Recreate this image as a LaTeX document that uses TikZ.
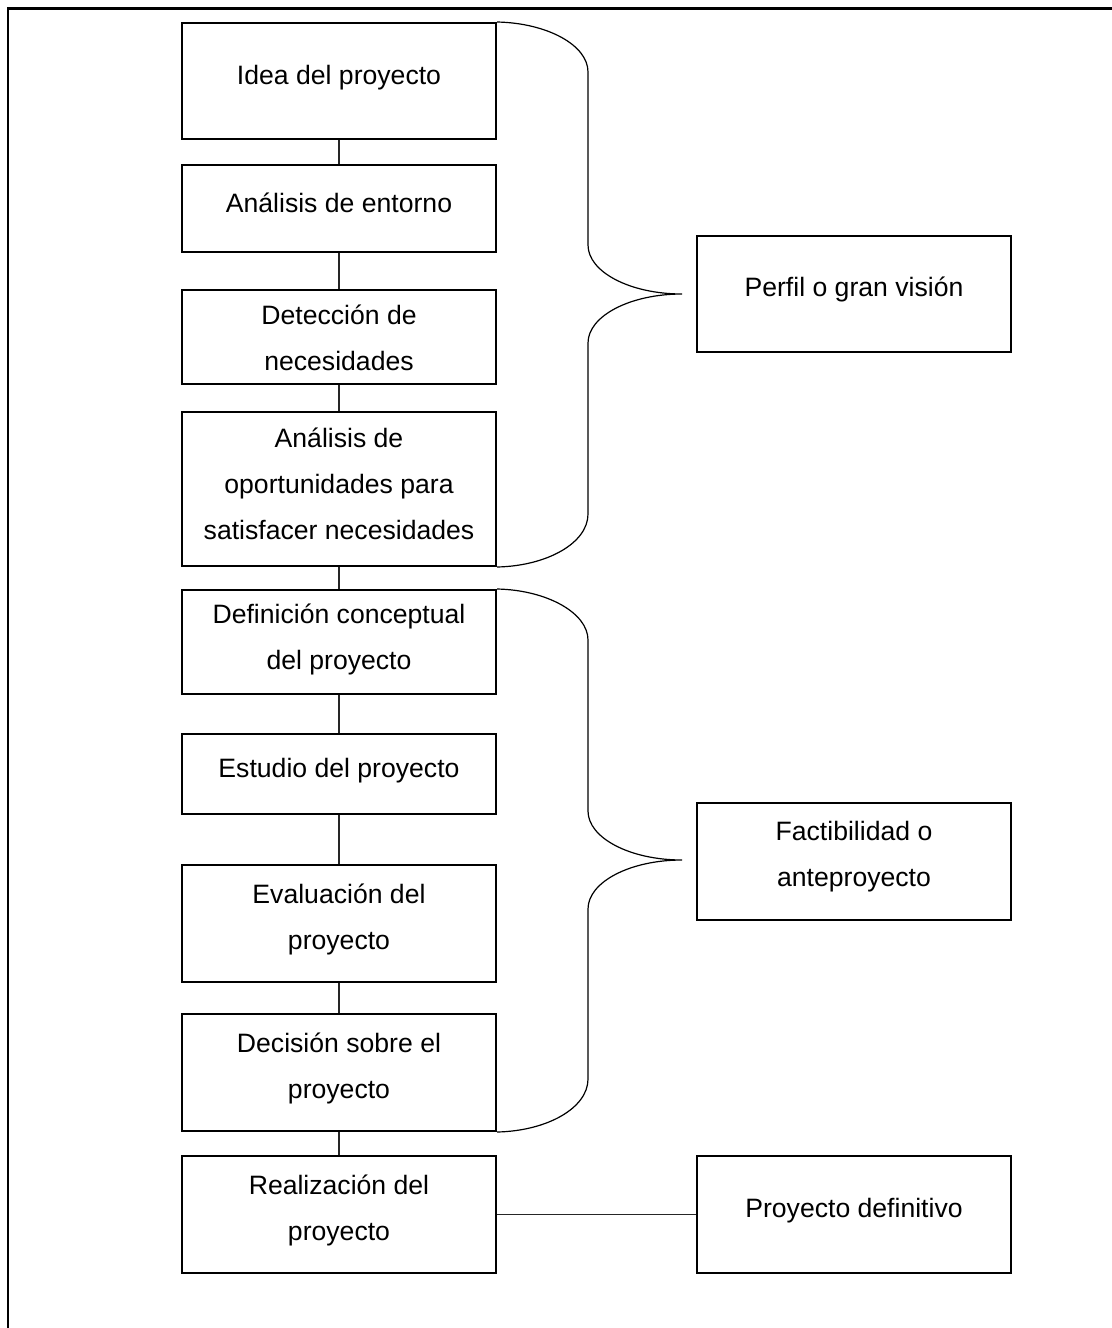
\documentclass[tikz,border=0pt]{standalone}
\usepackage{fontspec}
\setmainfont{Liberation Sans}
\begin{document}
\begin{tikzpicture}[x=0.5pt,y=-0.5pt,
  stagebox/.style={draw, line width=1pt, inner sep=0pt, minimum width=157pt},
  lbl/.style={align=center, inner sep=0pt, font=\fontsize{13.3pt}{23pt}\selectfont},
  link/.style={draw=black!85, line width=0.65pt},
  bracket/.style={draw=black, line width=0.6pt}]
\useasboundingbox (0,0) rectangle (1112,1328);
\fill[white] (0,0) rectangle (1112,1328);
% outer frame
\draw[line width=1.25pt] (8,1330) -- (8,8.5) -- (1114,8.5);

% stage boxes (left column)
\node[stagebox, minimum height=58pt]   (idea)    at (339,81)     {};
\node[stagebox, minimum height=43.5pt] (entorno) at (339,208.5)  {};
\node[stagebox, minimum height=47pt]   (detec)   at (339,337)    {};
\node[stagebox, minimum height=77pt]   (oport)   at (339,489)    {};
\node[stagebox, minimum height=52pt]   (defin)   at (339,642)    {};
\node[stagebox, minimum height=40pt]   (estudio) at (339,774)    {};
\node[stagebox, minimum height=58.5pt] (evalu)   at (339,923.5)  {};
\node[stagebox, minimum height=58.5pt] (decis)   at (339,1072.5) {};
\node[stagebox, minimum height=58.5pt] (realiz)  at (339,1214.5) {};

% phase boxes (right column)
\node[stagebox, minimum height=58pt]   (perfil)  at (854,294)    {};
\node[stagebox, minimum height=58.5pt] (factib)  at (854,861.5)  {};
\node[stagebox, minimum height=58.5pt] (defini)  at (854,1214.5) {};

% box texts
\node[lbl] (tidea)    at ([yshift=1.5pt]idea.center)    {Idea del proyecto};
\node[lbl] (tentorno) at ([yshift=3pt]entorno.center)   {Análisis de entorno};
\node[lbl] (tdetec)   at ([yshift=-0.5pt]detec.center)  {Detección de\\necesidades};
\node[lbl] (toport)   at ([yshift=2.5pt]oport.center)   {Análisis de\\oportunidades para\\satisfacer necesidades};
\node[lbl] (tdefin)   at ([yshift=1.5pt]defin.center)   {Definición conceptual\\del proyecto};
\node[lbl] (testudio) at ([yshift=1.5pt]estudio.center) {Estudio del proyecto};
\node[lbl] (tevalu)   at ([yshift=2pt]evalu.center)     {Evaluación del\\proyecto};
\node[lbl] (tdecis)   at ([yshift=2pt]decis.center)     {Decisión sobre el\\proyecto};
\node[lbl] (trealiz)  at ([yshift=2pt]realiz.center)    {Realización del\\proyecto};
\node[lbl] (tperfil)  at ([yshift=2.5pt]perfil.center)  {Perfil o gran visión};
\node[lbl] (tfactib)  at ([yshift=2.5pt]factib.center)  {Factibilidad o\\anteproyecto};
\node[lbl] (tdefini)  at ([yshift=2pt]defini.center)    {Proyecto definitivo};

% vertical chain
\draw[link] (idea) -- (entorno);
\draw[link] (entorno) -- (detec);
\draw[link] (detec) -- (oport);
\draw[link] (oport) -- (defin);
\draw[link] (defin) -- (estudio);
\draw[link] (estudio) -- (evalu);
\draw[link] (evalu) -- (decis);
\draw[link] (decis) -- (realiz);
\draw[link] (realiz) -- (defini);

% curly brackets grouping the stages
\coordinate (tip1) at (682,294);
\coordinate (tip2) at (682,860);
\draw[bracket] (idea.north east)
  .. controls (547,23) and (588,45) .. (588,72)
  -- (588,245)
  .. controls (588,272) and (630,294) .. (tip1)
  .. controls (630,294) and (588,316) .. (588,343)
  -- (588,514)
  .. controls (588,543) and (547,566) .. (oport.south east);
\draw[bracket] (defin.north east)
  .. controls (547,590) and (588,613) .. (588,640)
  -- (588,811)
  .. controls (588,838) and (630,860) .. (tip2)
  .. controls (630,860) and (588,882) .. (588,909)
  -- (588,1079)
  .. controls (588,1108) and (547,1131) .. (decis.south east);
\end{tikzpicture}
\end{document}
